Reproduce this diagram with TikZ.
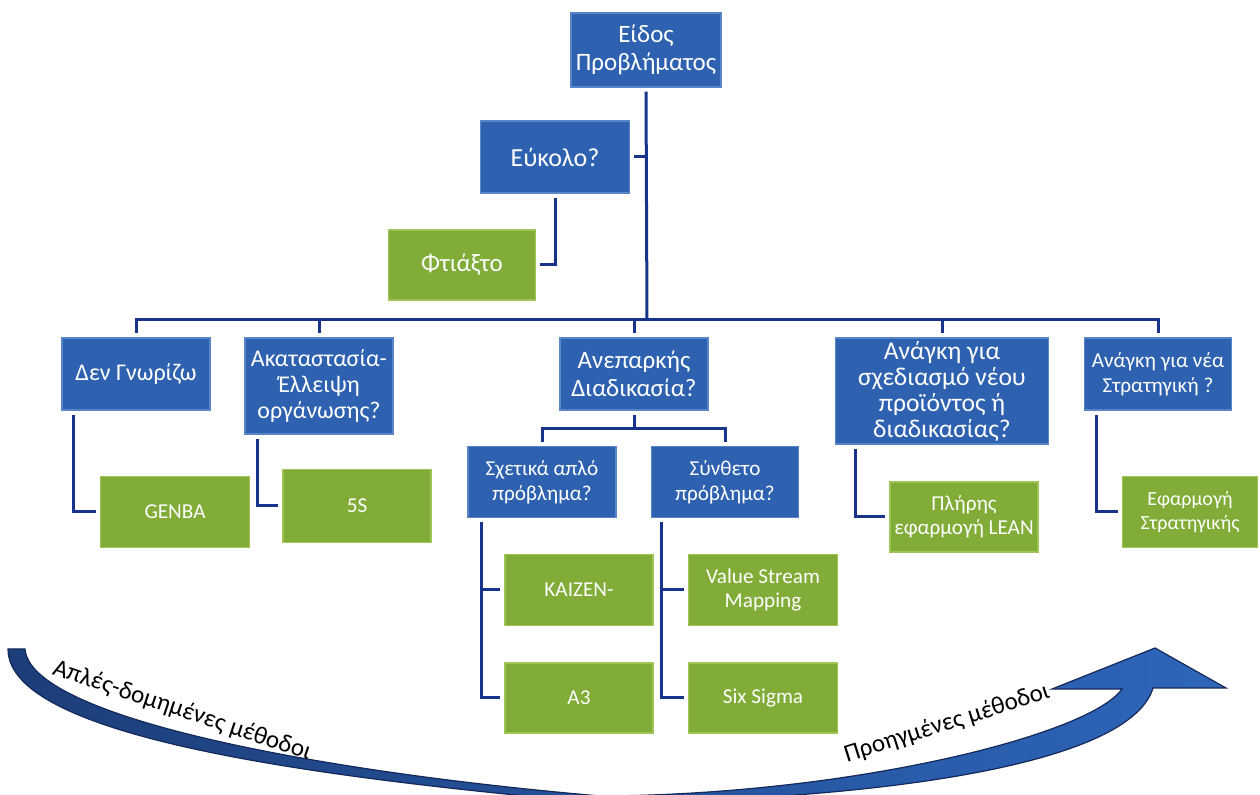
\documentclass[tikz,border=0pt]{standalone}
\usepackage{fontspec}
\setmainfont{Carlito}
\usepackage{tikz}
\usetikzlibrary{calc}

\definecolor{boxblue}{RGB}{46,98,176}
\definecolor{boxblueline}{RGB}{88,132,200}
\definecolor{boxgreen}{RGB}{128,172,55}
\definecolor{boxgreenline}{RGB}{160,196,90}
\definecolor{linknavy}{RGB}{24,52,138}
\definecolor{arrowdark}{RGB}{28,62,122}
\definecolor{arrowlight}{RGB}{46,102,186}
\definecolor{arrowline}{RGB}{20,40,90}

\tikzset{
  bluebox/.style={fill=boxblue,draw=boxblueline,line width=0.6pt,text=white,
    align=center,inner sep=0pt,font=\fontsize{12}{13.2}\selectfont},
  greenbox/.style={fill=boxgreen,draw=boxgreenline,line width=0.6pt,text=white,
    align=center,inner sep=0pt,font=\fontsize{10.6}{12}\selectfont},
  link/.style={draw=linknavy,line width=1.5pt,shorten <=2pt,shorten >=2pt},
  curvelabel/.style={inner sep=0pt,anchor=base,font=\fontsize{12.5}{14}\selectfont}
}

\begin{document}
\begin{tikzpicture}[x=0.5pt,y=-0.5pt]
        \useasboundingbox (0,0) rectangle (1260,795);
        % top of the tree
        \node[bluebox,minimum width=75pt,minimum height=37pt,font=\fontsize{12.5}{14}\selectfont] (eidos) at (646,50) {Είδος\\Προβλήματος};
        \node[bluebox,minimum width=74.5pt,minimum height=36pt,font=\fontsize{13}{14}\selectfont] (eukolo) at (555,157) {Εύκολο?};
        \node[greenbox,minimum width=73.5pt,minimum height=35pt,font=\fontsize{12.5}{14}\selectfont] (ftiaxto) at (462,265) {Φτιάξτο};
        % first row of questions
        \node[bluebox,minimum width=74pt,minimum height=36pt] (dengn) at (136,374) {Δεν Γνωρίζω};
        \node[bluebox,minimum width=74pt,minimum height=48pt] (akat) at (319,386) {Ακαταστασία-\\Έλλειψη\\οργάνωσης?};
        \node[bluebox,minimum width=74pt,minimum height=36pt,font=\fontsize{12.5}{14}\selectfont] (anep) at (634,374) {Ανεπαρκής\\Διαδικασία?};
        \node[bluebox,minimum width=106.5pt,minimum height=53pt,font=\fontsize{12.8}{13}\selectfont] (sxed) at (942,391) {Ανάγκη για\\σχεδιασμό νέου\\προϊόντος ή\\διαδικασίας?};
        \node[bluebox,minimum width=73.5pt,minimum height=36pt,font=\fontsize{10.6}{12.5}\selectfont] (strat) at (1158,374) {Ανάγκη για νέα\\Στρατηγική ?};
        % second row
        \node[bluebox,minimum width=74pt,minimum height=35.5pt,font=\fontsize{10.6}{12.5}\selectfont] (apl) at (542,482) {Σχετικά απλό\\πρόβλημα?};
        \node[bluebox,minimum width=73.5pt,minimum height=35.5pt,font=\fontsize{10.6}{12.5}\selectfont] (synth) at (725,482) {Σύνθετο\\πρόβλημα?};
        % methods
        \node[greenbox,minimum width=74.5pt,minimum height=35.5pt] (genba) at (175,512) {GENBA};
        \node[greenbox,minimum width=74pt,minimum height=36.5pt] (fives) at (357,506) {5S};
        \node[greenbox,minimum width=74pt,minimum height=35pt] (lean) at (964,517) {Πλήρης\\εφαρμογή LEAN};
        \node[greenbox,minimum width=67.5pt,minimum height=35.5pt,font=\fontsize{10}{12}\selectfont] (efstr) at (1190,512) {Εφαρμογή\\Στρατηγικής};
        \node[greenbox,minimum width=74pt,minimum height=35.5pt] (kaizen) at (579,590) {KAIZEN-};
        \node[greenbox,minimum width=74pt,minimum height=35pt] (athree) at (579,698) {A3};
        \node[greenbox,minimum width=74.5pt,minimum height=35.5pt] (vsm) at (763,590) {Value Stream\\Mapping};
        \node[greenbox,minimum width=74.5pt,minimum height=35pt] (sixs) at (763,698) {Six Sigma};

        % routine for the connectors
        \coordinate (bus) at (647,320);
        \coordinate (subbus) at ($(anep.south)+(0,18)$);
        \draw[link,shorten >=0pt] (eidos.south) -- (bus);
        \draw[link,shorten >=0pt] (eukolo.east) -- (eukolo.east -| bus);
        \draw[link] (eukolo.south) |- (ftiaxto.east);
        \foreach \q in {dengn,akat,anep,sxed,strat}
          \draw[link,shorten <=0pt] (bus) -| (\q.north);
        \draw[link,shorten >=0pt] (anep.south) -- (subbus);
        \draw[link,shorten <=0pt] (subbus) -| (apl.north);
        \draw[link,shorten <=0pt] (subbus) -| (synth.north);
        \draw[link] ($(dengn.south west)+(12,0)$) |- (genba.west);
        \draw[link] ($(akat.south west)+(13,0)$) |- (fives.west);
        \draw[link] ($(sxed.south west)+(21,0)$) |- (lean.west);
        \draw[link] ($(strat.south west)+(13,0)$) |- (efstr.west);
        \draw[link] ($(apl.south west)+(14,0)$) |- (kaizen.west);
        \draw[link] ($(apl.south west)+(14,0)$) |- (athree.west);
        \draw[link] ($(synth.south west)+(11,0)$) |- (vsm.west);
        \draw[link] ($(synth.south west)+(11,0)$) |- (sixs.west);

        % the big curved arrow
        \begin{scope}
          \clip (0,0) rectangle (1260,795);
          \shade[left color=arrowdark,right color=arrowlight,draw=arrowline,line width=0.6pt]
            (8,649) -- (25,649)
            .. controls (30,715) and (300,770) .. (600,796)
            .. controls (850,795) and (1090,735) .. (1122,689)
            -- (1052,689) -- (1155,648) -- (1226,688) -- (1153,688)
            .. controls (1130,765) and (880,800) .. (600,803)
            .. controls (320,778) and (8,738) .. (8,649) -- cycle;
        \end{scope}
        \node[curvelabel,rotate=-18.5] (simple) at (180,717) {Απλές-δομημένες μέθοδοι};
        \node[curvelabel,rotate=17.5] (advanced) at (949,730) {Προηγμένες μέθοδοι};
      \end{tikzpicture}
\end{document}
